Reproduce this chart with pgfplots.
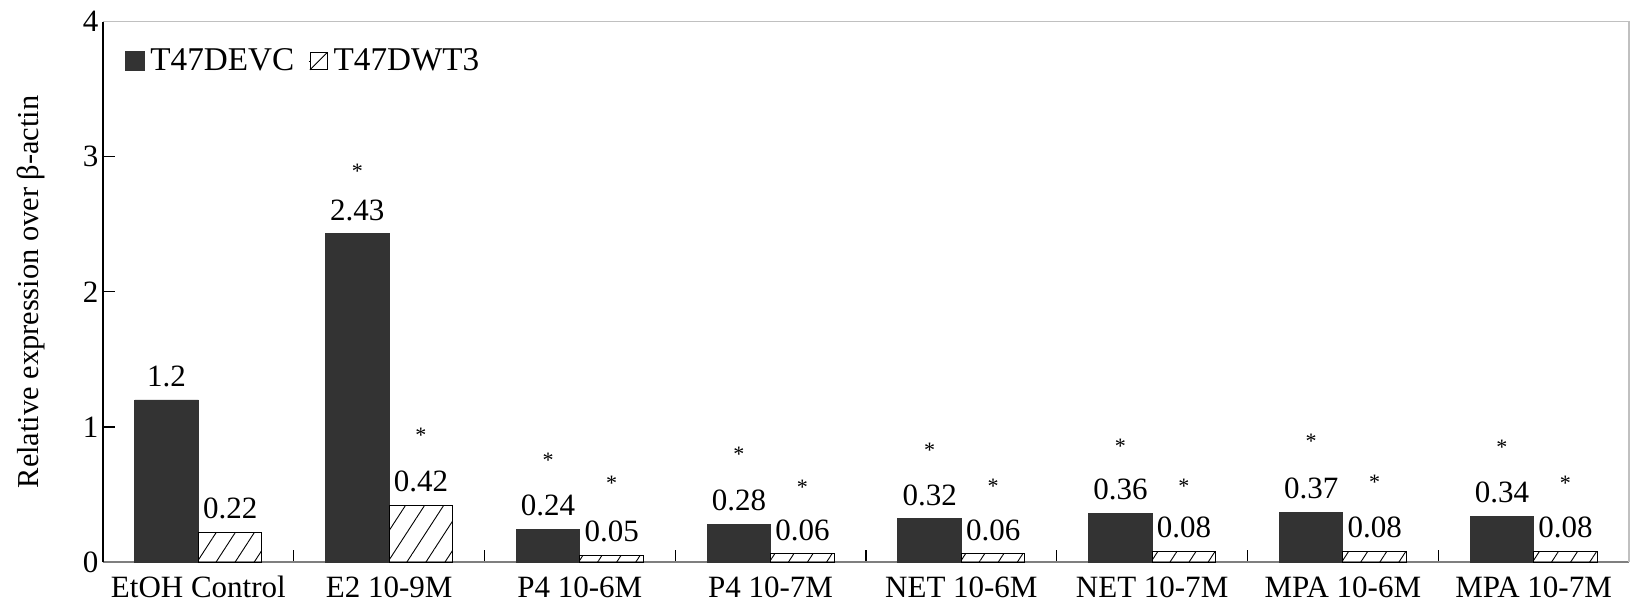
\documentclass[border=0pt]{standalone}
\usepackage{fontspec}
\setmainfont{Liberation Serif}
\usepackage{pgfplots}
\pgfplotsset{compat=1.18}
\usetikzlibrary{patterns.meta}
\definecolor{darkbar}{HTML}{333333}
\definecolor{framegray}{HTML}{C0C0C0}
\definecolor{xaxisgray}{HTML}{7F7F7F}
\newcommand{\lblfont}{\fontsize{15.5}{17}\selectfont}
\begin{document}
\begin{tikzpicture}
\begin{axis}[
  name=ax,
  scale only axis, width=763pt, height=270.15pt,
  xmin=-0.5, xmax=7.5, ymin=0, ymax=4,
  clip=false,
  /pgf/number format/assume math mode=true,
  axis lines*=left,
  x axis line style={-, draw=xaxisgray, line width=0.8pt},
  y axis line style={-, draw=black, line width=0.7pt},
  tick align=inside,
  major tick length=6pt,
  tick style={black, line width=0.6pt},
  ytick={0,1,2,3,4},
  yticklabel style={font=\lblfont, xshift=1.2pt},
  xtick={0.5,1.5,...,7.5},
  xticklabels={},
  extra x ticks={0,1,2,3,4,5,6,7},
  extra x tick labels={EtOH Control, E2 10-9M, P4 10-6M, P4 10-7M, NET 10-6M, NET 10-7M, MPA 10-6M, MPA 10-7M},
  extra x tick style={major tick length=0pt},
  xticklabel style={font=\lblfont, anchor=base, yshift=-17.5pt},
  ylabel={Relative expression over β-actin},
  ylabel style={font=\fontsize{15.2}{17}\selectfont, at={(axis description cs:0,0.5)}, anchor=center, rotate=0, yshift=36pt},
  legend style={at={(axis description cs:0,1)}, anchor=west, xshift=11pt, yshift=-19.8pt,
    draw=none, fill=none, inner sep=0pt, font=\fontsize{16.6}{18}\selectfont, legend columns=2,
    nodes={inner xsep=2.6pt, inner ysep=1pt},
    /tikz/every even column/.append style={column sep=4.5pt}},
  valuelbl/.style={forget plot, draw=none, mark=none, point meta=explicit symbolic,
    nodes near coords={\pgfplotspointmeta},
    nodes near coords style={font=\lblfont, text=black, anchor=base, inner sep=0pt, yshift=6.8pt}},
  starlbl/.style={forget plot, draw=none, mark=none, point meta=explicit symbolic,
    nodes near coords={\pgfplotspointmeta},
    nodes near coords style={font=\fontsize{11}{12}\selectfont, text=black, anchor=center, inner sep=0pt}},
]
\addplot[ybar, bar width=0.333, bar shift=-0.1665, fill=darkbar, draw=darkbar,
  legend image code/.code={\fill[darkbar] (0pt,-4.75pt) rectangle (9.5pt,4.75pt);}]
coordinates {(0,1.2) (1,2.43) (2,0.24) (3,0.28) (4,0.32) (5,0.36) (6,0.37) (7,0.34)};
\addlegendentry{T47DEVC}
\addplot[ybar, bar width=0.333, bar shift=0.1665, draw=black, line width=0.5pt,
  pattern={Lines[angle=57,distance=8pt,line width=0.45pt]},
  legend image code/.code={\path (0pt,0pt) -- (9.5pt,0pt); \draw[black, line width=0.4pt, fill=white] (0.5pt,-4.25pt) rectangle (9pt,4.25pt); \draw[black, line width=0.4pt] (0.5pt,-4.25pt) -- (9pt,4.25pt);}]
coordinates {(0,0.22) (1,0.42) (2,0.05) (3,0.06) (4,0.06) (5,0.08) (6,0.08) (7,0.08)};
\addlegendentry{T47DWT3}
% value labels
\addplot[valuelbl] coordinates {(-0.1665,1.2)[1.2] (0.8335,2.43)[2.43] (1.8335,0.24)[0.24] (2.8335,0.28)[0.28] (3.8335,0.32)[0.32] (4.8335,0.36)[0.36] (5.8335,0.37)[0.37] (6.8335,0.34)[0.34]};
\addplot[valuelbl] coordinates {(0.1665,0.22)[0.22] (1.1665,0.42)[0.42] (2.1665,0.05)[0.05] (3.1665,0.06)[0.06] (4.1665,0.06)[0.06] (5.1665,0.08)[0.08] (6.1665,0.08)[0.08] (7.1665,0.08)[0.08]};
% significance asterisks
\addplot[starlbl] coordinates {(0.8335,2.89)[*] (1.8335,0.75)[*] (2.8335,0.80)[*] (3.8335,0.83)[*] (4.8335,0.86)[*] (5.8335,0.89)[*] (6.8335,0.85)[*]};
\addplot[starlbl] coordinates {(1.1665,0.94)[*] (2.1665,0.58)[*] (3.1665,0.55)[*] (4.1665,0.56)[*] (5.1665,0.56)[*] (6.1665,0.59)[*] (7.1665,0.58)[*]};
\draw[framegray, line width=0.75pt] (rel axis cs:0,1) -- (rel axis cs:1,1) -- (rel axis cs:1,0);
\coordinate (BL) at (rel axis cs:0,0);
\coordinate (TR) at (rel axis cs:1,1);
\end{axis}
\pgfresetboundingbox
\path ([shift={(-51.5pt,-19.5pt)}]BL) rectangle ([shift={(0.5pt,10.85pt)}]TR);
\end{tikzpicture}
\end{document}
